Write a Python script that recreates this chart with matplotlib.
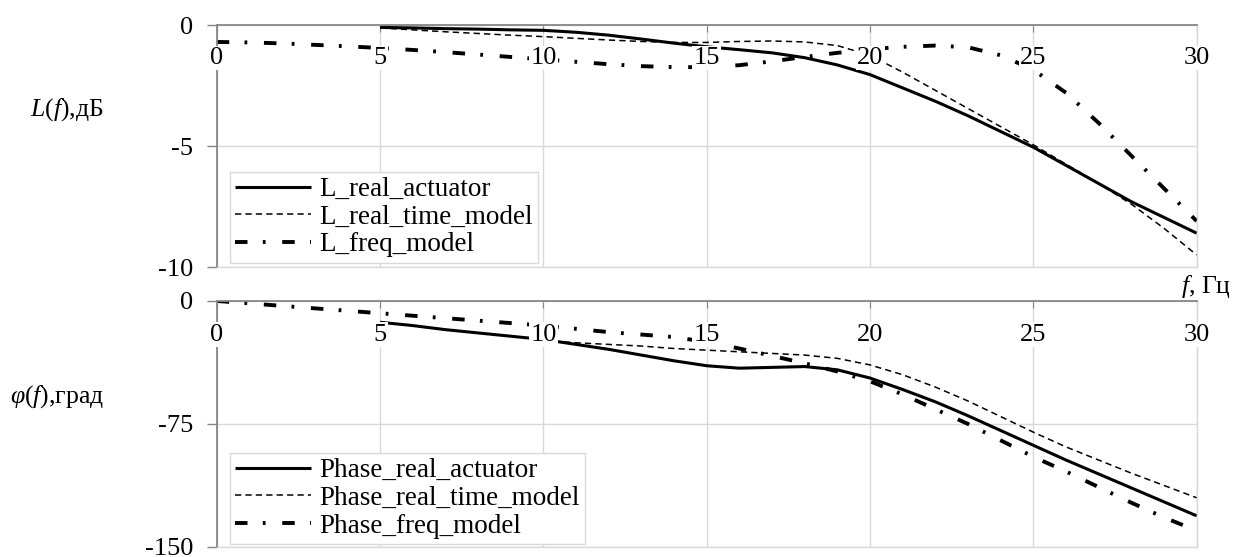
import numpy as np
import matplotlib.pyplot as plt
from matplotlib.transforms import blended_transform_factory

plt.rcParams['font.family'] = ['Liberation Serif', 'DejaVu Serif']
plt.rcParams['mathtext.fontset'] = 'custom'
plt.rcParams['mathtext.it'] = 'Liberation Serif:italic'
plt.rcParams['mathtext.rm'] = 'Liberation Serif'
plt.rcParams['lines.scale_dashes'] = False
plt.rcParams['axes.unicode_minus'] = False

# amplitude, dB
f_L_act = np.arange(5, 31)
L_real_actuator = [-0.10, -0.12, -0.15, -0.17, -0.20, -0.22, -0.30, -0.42, -0.58, -0.75,
                   -0.90, -1.02, -1.15, -1.35, -1.65, -2.05, -2.60, -3.15, -3.75, -4.40,
                   -5.05, -5.80, -6.55, -7.30, -7.95, -8.60]
f_L_time = np.arange(5, 31)
L_real_time_model = [-0.12, -0.20, -0.28, -0.35, -0.42, -0.48, -0.55, -0.62, -0.68, -0.72,
                     -0.72, -0.68, -0.66, -0.70, -0.85, -1.25, -1.95, -2.70, -3.45, -4.20,
                     -4.95, -5.75, -6.55, -7.40, -8.40, -9.50]
f_L_freq = np.arange(0, 31)
L_freq_model = [-0.70, -0.72, -0.76, -0.82, -0.88, -0.95, -1.03, -1.12, -1.22, -1.32,
                -1.42, -1.52, -1.62, -1.70, -1.74, -1.74, -1.66, -1.50, -1.32, -1.15,
                -1.00, -0.90, -0.85, -0.92, -1.25, -1.85, -2.80, -4.05, -5.40, -6.75,
                -8.10]

# phase, deg
f_P_act = np.arange(5, 31)
Phase_real_actuator = [-13, -15, -17.5, -19.5, -21.5, -23.5, -26.5, -29.5, -33, -36.5,
                       -39.5, -41, -40.5, -40, -42, -47, -54, -61.5, -70, -79,
                       -88, -97, -105.5, -114, -122.5, -131]
f_P_time = np.arange(10, 31)
Phase_real_time_model = [-24, -25.5, -26.5, -27.5, -29, -30, -31, -32, -33, -35,
                         -39, -45, -52.5, -61, -70.5, -80, -89, -97, -105, -112.5,
                         -120]
f_P_freq = np.arange(0, 31)
Phase_freq_model = [0, -1.5, -3, -4.5, -6, -7.5, -9, -10.5, -12, -13.5,
                    -15, -17, -19, -20.5, -22, -25, -29, -33.5, -38, -43,
                    -49, -57, -66, -75, -85, -95, -104, -113.5, -123, -132,
                    -140]

xticks = [0, 5, 10, 15, 20, 25, 30]

fig = plt.figure(figsize=(12.42, 5.57), dpi=100)
ax1 = fig.add_axes([0.1745, 0.5206, 0.789, 0.4345])
ax2 = fig.add_axes([0.1745, 0.018, 0.789, 0.4417])

solid = dict(color='black', lw=2.2, solid_capstyle='butt')
dashed = dict(color='black', lw=1.1, dashes=(4.5, 3))
dashdot = dict(color='black', lw=2.8, dashes=(9, 11, 2, 12), dash_capstyle='butt')


def style_axes(ax, yticks, ylim):
    ax.set_xlim(0, 30)
    ax.set_ylim(*ylim)
    ax.set_xticks(xticks)
    ax.set_yticks(yticks)
    ax.xaxis.tick_top()
    ax.tick_params(axis='x', direction='in', length=5, color='#868686', labeltop=False)
    ax.tick_params(axis='y', direction='out', length=7, width=1, color='#868686',
                   labelsize=19, pad=10)
    ax.grid(True, color='#d9d9d9', lw=1)
    ax.set_axisbelow(True)
    for s in ['bottom', 'right']:
        ax.spines[s].set_color('#d9d9d9')
        ax.spines[s].set_linewidth(1)
    for s in ['top', 'left']:
        ax.spines[s].set_color('#868686')
        ax.spines[s].set_linewidth(1.3)
    tr = blended_transform_factory(ax.transData, ax.transAxes)
    for t in xticks:
        ax.text(t, 0.863, str(t), transform=tr, ha='center', va='center', fontsize=19,
                bbox=dict(boxstyle='square,pad=0.05', fc='white', ec='none'), zorder=5)


ax1.plot(f_L_act, L_real_actuator, label='L_real_actuator', **solid)
ax1.plot(f_L_time, L_real_time_model, label='L_real_time_model', **dashed)
ax1.plot(f_L_freq, L_freq_model, label='L_freq_model', **dashdot)
style_axes(ax1, [-10, -5, 0], (-10, 0))

ax2.plot(f_P_act, Phase_real_actuator, label='Phase_real_actuator', **solid)
ax2.plot(f_P_time, Phase_real_time_model, label='Phase_real_time_model', **dashed)
ax2.plot(f_P_freq, Phase_freq_model, label='Phase_freq_model', **dashdot)
style_axes(ax2, [-150, -75, 0], (-150, 0))

for ax, anchor in [(ax1, (0.0136, 0.017)), (ax2, (0.0136, 0.012))]:
    leg = ax.legend(loc='lower left', bbox_to_anchor=anchor, borderaxespad=0,
                    fontsize=19.5, fancybox=False, framealpha=1, edgecolor='#d9d9d9',
                    handlelength=2.8, handletextpad=0.3, labelspacing=0.1,
                    borderpad=0.2)
    leg.get_frame().set_linewidth(1)
    leg.set_zorder(6)

fig.text(30 / 1242, 1 - 110 / 557, r'$L(f)$,дБ', ha='left', va='center', fontsize=18.5)
fig.text(10 / 1242, 1 - 397 / 557, r'$\varphi(f)$,град', ha='left', va='center', fontsize=18.5)
fig.text(1181 / 1242, 1 - 287 / 557, r'$f$, Гц', ha='left', va='center', fontsize=18.5)

fig.savefig('out.png', dpi=100)
